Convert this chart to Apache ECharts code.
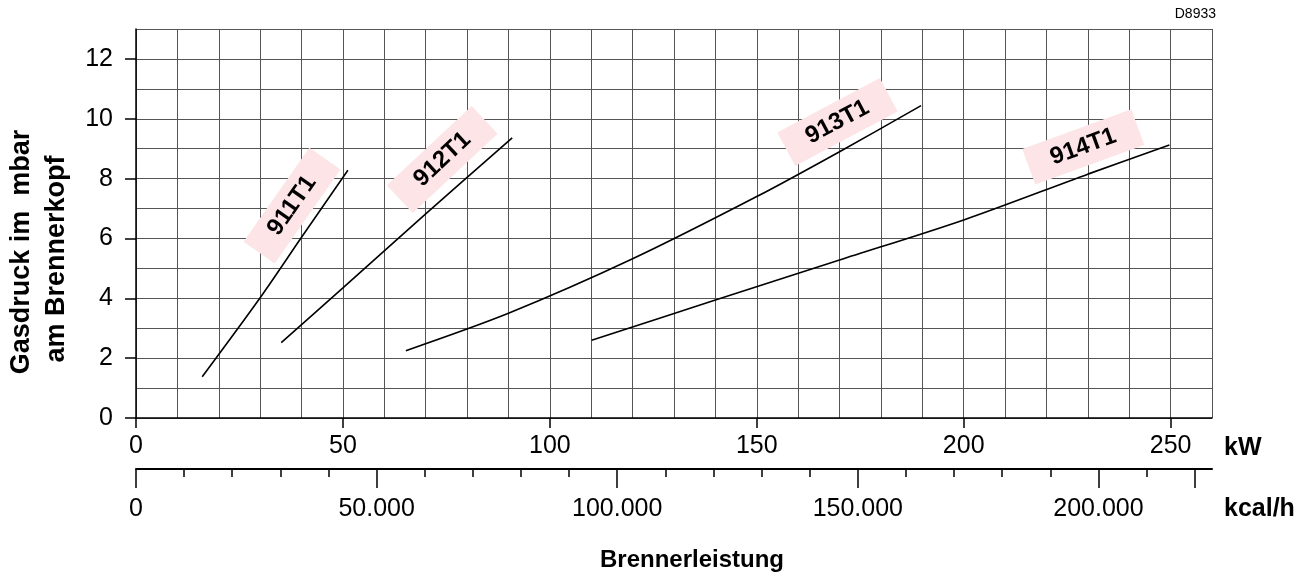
<!DOCTYPE html>
<html>
<head>
<meta charset="utf-8">
<script src="https://cdn.jsdelivr.net/npm/echarts@6/dist/echarts.min.js"></script>
<style>
html,body{margin:0;padding:0;background:#fff;}
#chart{width:1305px;height:576px;}
</style>
</head>
<body>
<div id="chart"></div>
<script>
// ---- tick labels ----
const kwTicks = [0, 50, 100, 150, 200, 250];
const mbarTicks = [0, 2, 4, 6, 8, 10, 12];
const kcalLabelTicks = [0, 50000, 100000, 150000, 200000];
const kcalLongTicks = [0, 50000, 100000, 150000, 200000, 220000];
const kcalShortTicks = [0, 10000, 20000, 30000, 40000, 50000, 60000, 70000, 80000, 90000, 100000,
  110000, 120000, 130000, 140000, 150000, 160000, 170000, 180000, 190000, 200000, 210000, 220000];

// ---- curves (kW -> mbar) ----
const kw911 = [16.0, 30.0, 40.0, 51.2];
const p911  = [1.38, 4.02, 6.04, 8.28];

const kw912 = [35.1, 50.0, 70.0, 90.9];
const p912  = [2.52, 4.35, 6.82, 9.36];

const kw913 = [65.2, 90, 120, 150, 170, 189.7];
const p913  = [2.25, 3.50, 5.32, 7.40, 8.90, 10.44];

const kw914 = [110.1, 140, 170, 200, 230, 249.7];
const p914  = [2.60, 3.94, 5.28, 6.62, 8.15, 9.12];

// ---- curve tags ----
const tagNames = ['911T1', '912T1', '913T1', '914T1'];
const tagKW    = [37.7, 74.0, 169.5, 228.9];
const tagMbar  = [7.1, 8.64, 9.89, 9.06];
const tagAngle = [55, 43, 28, 20];

const KCAL_PER_KW = 860;
const KW_MAX = 260;
const FONT = '"Liberation Sans", Arial, Helvetica, sans-serif';

function pairs(xs, ys) { return xs.map((x, i) => [x, ys[i]]); }

const curveSeries = [[kw911, p911], [kw912, p912], [kw913, p913], [kw914, p914]].map((c, i) => ({
  type: 'line',
  name: tagNames[i],
  xAxisIndex: 0, yAxisIndex: 0,
  data: pairs(c[0], c[1]),
  smooth: 0.3,
  symbol: 'none',
  lineStyle: { color: '#000', width: 1.6 },
  z: 3
}));

const tagSeries = {
  type: 'scatter',
  xAxisIndex: 0, yAxisIndex: 0,
  symbol: 'circle', symbolSize: 1,
  itemStyle: { color: 'rgba(0,0,0,0)' },
  z: 5,
  data: tagNames.map((n, i) => ({
    name: n,
    value: [tagKW[i], tagMbar[i]],
    label: { rotate: tagAngle[i] }
  })),
  label: {
    show: true,
    position: 'inside',
    formatter: '{b}',
    fontFamily: FONT,
    fontSize: 24,
    fontWeight: 'bold',
    color: '#000',
    opacity: 1,
    textBorderWidth: 0,
    backgroundColor: '#fde4e6',
    padding: [8, 24, 6, 24],
    lineHeight: 24
  }
};

const chart = echarts.init(document.getElementById('chart'), null, { renderer: 'canvas' });
chart.setOption({
  animation: false,
  backgroundColor: '#fff',
  textStyle: { fontFamily: FONT },
  grid: { left: 136, right: 93, top: 29, bottom: 158, containLabel: false, outerBoundsMode: 'none' },
  xAxis: [
    { // grid lines
      type: 'value', min: 0, max: KW_MAX, interval: 10, position: 'bottom',
      axisLine: { show: false }, axisTick: { show: false }, axisLabel: { show: false },
      splitLine: { show: true, lineStyle: { color: '#555', width: 1 } }
    },
    { // kW labels
      type: 'value', min: 0, max: KW_MAX, position: 'bottom', offset: 0,
      axisLine: { show: true, onZero: false, lineStyle: { color: '#000', width: 1.5 } },
      axisTick: { show: true, customValues: kwTicks, length: 10, lineStyle: { color: '#000', width: 1.5 } },
      axisLabel: { show: true, customValues: kwTicks, fontSize: 25, color: '#000', margin: 16, fontFamily: FONT },
      splitLine: { show: false }
    },
    { // kcal short ticks
      type: 'value', min: 0, max: KW_MAX * KCAL_PER_KW, position: 'bottom', offset: 51,
      axisLine: { show: true, onZero: false, lineStyle: { color: '#000', width: 2 } },
      axisTick: { show: true, customValues: kcalShortTicks, length: 8, lineStyle: { color: '#000', width: 1.5 } },
      axisLabel: { show: false },
      splitLine: { show: false }
    },
    { // kcal long ticks + labels
      type: 'value', min: 0, max: KW_MAX * KCAL_PER_KW, position: 'bottom', offset: 51,
      axisLine: { show: false, onZero: false },
      axisTick: { show: true, customValues: kcalLongTicks, length: 19, lineStyle: { color: '#000', width: 1.5 } },
      axisLabel: {
        show: true, customValues: kcalLabelTicks, fontSize: 25, color: '#000', margin: 28, fontFamily: FONT,
        formatter: v => v === 0 ? '0' : (v / 1000).toFixed(0) + '.000'
      },
      splitLine: { show: false }
    }
  ],
  yAxis: [
    { // grid lines
      type: 'value', min: 0, max: 13, interval: 1, position: 'left',
      axisLine: { show: false }, axisTick: { show: false }, axisLabel: { show: false },
      splitLine: { show: true, lineStyle: { color: '#555', width: 1 } }
    },
    { // labels
      type: 'value', min: 0, max: 13, position: 'left', offset: 0,
      axisLine: { show: true, onZero: false, lineStyle: { color: '#000', width: 1.5 } },
      axisTick: { show: true, customValues: mbarTicks, length: 11, lineStyle: { color: '#000', width: 1.5 } },
      axisLabel: { show: true, customValues: mbarTicks, fontSize: 25, color: '#000', margin: 23, fontFamily: FONT },
      splitLine: { show: false }
    }
  ],
  graphic: [
    { type: 'text', x: 1216, y: 14, style: { text: 'D8933', font: '14px ' + FONT, fill: '#000', textAlign: 'right', textVerticalAlign: 'middle' } },
    { type: 'text', x: 1224, y: 448, style: { text: 'kW', font: 'bold 25px ' + FONT, fill: '#000', textAlign: 'left', textVerticalAlign: 'middle' } },
    { type: 'text', x: 1224, y: 509, style: { text: 'kcal/h', font: 'bold 25px ' + FONT, fill: '#000', textAlign: 'left', textVerticalAlign: 'middle' } },
    { type: 'text', x: 692, y: 560, style: { text: 'Brennerleistung', font: 'bold 24px ' + FONT, fill: '#000', textAlign: 'center', textVerticalAlign: 'middle' } },
    { type: 'text', x: 22, y: 252, rotation: Math.PI / 2, style: { text: 'Gasdruck im  mbar', font: 'bold 27px ' + FONT, fill: '#000', textAlign: 'center', textVerticalAlign: 'middle' } },
    { type: 'text', x: 57, y: 259, rotation: Math.PI / 2, style: { text: 'am Brennerkopf', font: 'bold 27px ' + FONT, fill: '#000', textAlign: 'center', textVerticalAlign: 'middle' } }
  ],
  series: curveSeries.concat([tagSeries])
});
</script>
</body>
</html>
